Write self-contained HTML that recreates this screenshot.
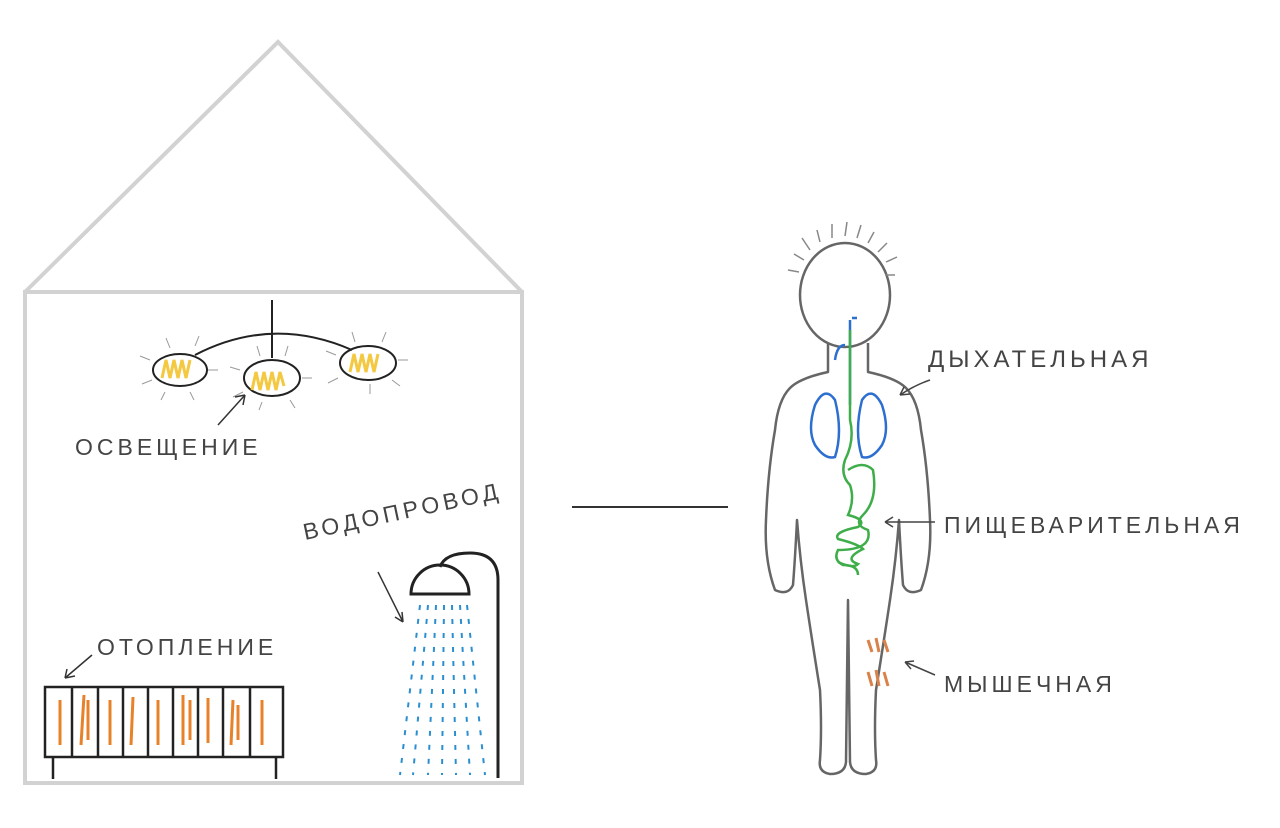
<!DOCTYPE html>
<html><head><meta charset="utf-8"><style>
html,body{margin:0;padding:0;background:#fff;width:1280px;height:828px;overflow:hidden}
text{font-family:"Liberation Sans",sans-serif;fill:#444;letter-spacing:4px}
</style></head><body>
<svg width="1280" height="828" viewBox="0 0 1280 828" xmlns="http://www.w3.org/2000/svg">
<g fill="none" stroke="#d2d2d2" stroke-width="4">
<polyline points="25,292 278,42 522,292"/>
<rect x="25" y="292" width="497" height="491"/>
</g>
<line x1="572" y1="507" x2="728" y2="507" stroke="#333" stroke-width="2"/>
<g stroke="#222" stroke-width="2" fill="none">
<line x1="272" y1="300" x2="272" y2="358"/>
<path d="M195,355 Q272,315 352,350"/>
<ellipse cx="180" cy="370" rx="27" ry="16"/>
<ellipse cx="272" cy="378" rx="28" ry="18"/>
<ellipse cx="368" cy="363" rx="28" ry="17"/>
</g>
<g stroke="#f5c842" stroke-width="3" fill="none">
<path d="M162,378 l4,-18 l4,18 l4,-18 l4,18 l4,-18 l4,18 l4,-18"/>
<path d="M252,390 l4,-18 l4,18 l4,-18 l4,18 l4,-18 l4,18 l4,-18 l4,14"/>
<path d="M350,372 l4,-18 l4,18 l4,-18 l4,18 l4,-18 l4,18 l4,-18"/>
</g>
<g stroke="#999" stroke-width="1">
<path d="M150,360 l-10,-4 M152,380 l-10,4 M170,348 l-4,-10 M195,346 l4,-10 M208,370 l10,0 M190,392 l4,8 M165,392 l-4,8
M240,370 l-10,-3 M243,392 l-10,5 M260,356 l-3,-10 M285,356 l3,-10 M302,378 l10,0 M290,400 l5,8 M262,402 l-3,8
M336,355 l-10,-4 M338,378 l-10,5 M355,342 l-3,-10 M382,342 l4,-10 M398,360 l10,0 M392,380 l8,6 M370,384 l0,10"/>
</g>
<path d="M218,425 L245,395 M245,395 l-10,2 M245,395 l-2,10" stroke="#333" stroke-width="1.5" fill="none"/>
<text x="75" y="455" font-size="23">ОСВЕЩЕНИЕ</text>
<g stroke="#222" stroke-width="2.5" fill="none">
<rect x="45" y="687" width="238" height="70"/>
<path d="M72,687v70 M98,687v70 M123,687v70 M148,687v70 M173,687v70 M198,687v70 M223,687v70 M250,687v70"/>
<path d="M53,757v22 M276,757v22"/>
</g>
<g stroke="#e8822a" stroke-width="3">
<path d="M60,700v45 M84,695l-3,50 M110,700v45 M133,697l-2,48 M158,700v45 M183,695v50 M208,698v45 M233,700l-2,45 M262,700v45 M88,700v40 M190,700v40 M238,705v35"/>
</g>
<path d="M92,655 L65,678 M65,678 l10,-2 M65,678 l2,-9" stroke="#333" stroke-width="1.5" fill="none"/>
<text x="97" y="655" font-size="23">ОТОПЛЕНИЕ</text>
<g stroke="#222" stroke-width="3" fill="none">
<path d="M498,778 V580 Q498,553 470,553 Q445,553 440,567"/>
<path d="M411,594 A29,29 0 0 1 469,594 Z"/>
</g>
<g stroke="#2a8fd0" stroke-width="2" stroke-dasharray="5,9">
<path d="M420,605 L400,775 M428,605 L413,775 M436,605 L428,775 M444,605 L442,775 M452,605 L456,775 M460,605 L470,775 M467,605 L485,775"/>
</g>
<path d="M378,572 L403,622 M403,622 l-1,-10 M403,622 l-8,-5" stroke="#333" stroke-width="1.5" fill="none"/>
<text x="305" y="540" font-size="23" transform="rotate(-12 305 540)">ВОДОПРОВОД</text>
<g stroke="#666" stroke-width="2.5" fill="none" stroke-linejoin="round">
<ellipse cx="845" cy="295" rx="45" ry="52"/>
<path d="M828,343 L828,372 Q800,378 790,388 Q778,400 775,430 Q768,470 766,520 Q764,560 775,590 Q788,596 793,585 Q795,560 797,520 Q800,560 806,600 Q812,640 820,690 Q822,730 820,760 Q818,772 830,774 Q845,774 846,762 L848,600
L850,762 Q851,774 866,774 Q878,772 876,760 Q874,730 876,690 Q884,640 890,600 Q896,560 899,520 Q901,560 903,585 Q908,596 921,590 Q932,560 930,520 Q928,470 921,430 Q918,400 906,388 Q896,378 868,372 L868,343"/>
</g>
<g stroke="#888" stroke-width="1.5">
<path d="M810,250 l-8,-12 M820,242 l-3,-12 M832,238 l0,-14 M845,236 l2,-14 M857,238 l4,-13 M868,243 l6,-11 M878,252 l9,-9 M886,262 l11,-5 M804,260 l-10,-6 M799,272 l-11,-2 M885,275 l10,0"/>
</g>
<g stroke="#2d6fd0" stroke-width="2.5" fill="none">
<path d="M845,345 q-8,0 -10,15 M850,320 v85 M852,318 h5"/>
<path d="M835,400 q-10,-15 -20,5 q-8,25 0,40 q10,15 20,12 q8,-25 0,-57z"/>
<path d="M862,400 q10,-15 20,5 q8,25 0,40 q-10,15 -20,12 q-8,-25 0,-57z"/>
</g>
<path d="M850,330 v90 q5,20 -5,40 q-5,15 5,25 q5,15 -2,30 q20,5 10,12 q-25,5 -20,12 q20,5 25,10 q-20,10 -5,15 q-5,5 -20,-2" stroke="#3fae4a" stroke-width="2.5" fill="none"/>
<path d="M848,470 q15,-10 25,0 q5,30 -10,45 q-10,10 5,15 q5,20 -30,20 q-5,10 5,15 q15,0 15,10" stroke="#3fae4a" stroke-width="2.5" fill="none"/>
<g stroke="#d9824a" stroke-width="3"><path d="M868,640 l4,12 M876,638 l3,14 M884,640 l4,12 M868,672 l4,14 M876,670 l3,16 M884,672 l4,14"/></g>
<g stroke="#444" stroke-width="1.5" fill="none">
<path d="M930,380 q-15,5 -30,15 M900,395 l10,-1 M900,395 l4,-8"/>
<path d="M935,522 H885 M885,522 l8,-5 M885,522 l8,5"/>
<path d="M935,675 L905,662 M905,662 l6,7 M905,662 l9,-1"/>
</g>
<text x="928" y="367" font-size="24" letter-spacing="6">ДЫХАТЕЛЬНАЯ</text>
<text x="944" y="533" font-size="23" letter-spacing="3">ПИЩЕВАРИТЕЛЬНАЯ</text>
<text x="944" y="692" font-size="23">МЫШЕЧНАЯ</text>
</svg>
</body></html>
